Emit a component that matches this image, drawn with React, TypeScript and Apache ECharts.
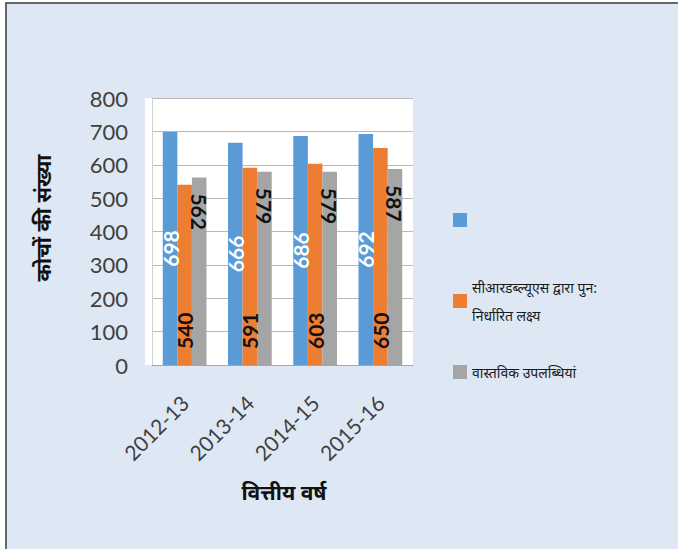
import React, { useEffect, useRef } from "react";
import * as echarts from "echarts";

const years = ["2012-13", "2013-14", "2014-15", "2015-16"];
const seriesNames = [" ", "सीआरडब्ल्यूएस द्वारा पुन:\nनिर्धारित लक्ष्य", "वास्तविक उपलब्धियां"];
const targetValues = [698, 666, 686, 692];
const revisedTargets = [540, 591, 603, 650];
const achievements = [562, 579, 579, 587];
const yTicks = { min: 0, max: 800, interval: 100 };

const NUM_FONT = "Lato, 'Open Sans', sans-serif";
const DEVA = "'Noto Sans', 'Noto Sans Devanagari', 'Lohit Devanagari', sans-serif";

export default function App() {
  const ref = useRef<HTMLDivElement>(null);

  useEffect(() => {
    if (!ref.current) return;
    const chart = echarts.init(ref.current, null, { renderer: "svg" });

    const labelBase = {
      show: true,
      fontFamily: NUM_FONT,
      fontWeight: "bold" as const,
      fontSize: 21,
    };

    const legendCommon = {
      orient: "vertical" as const,
      left: 453,
      padding: 0,
      itemWidth: 14,
      itemHeight: 14,
      icon: "rect",
      selectedMode: false,
    };
    const legendText = { fontFamily: DEVA, fontSize: 14, color: "#1a1a1a" };

    chart.setOption({
      animation: false,
      backgroundColor: "#ffffff",
      graphic: [
        {
          type: "rect",
          z: -10,
          shape: { x: 6, y: 3, width: 680, height: 560 },
          style: { fill: "#dee8f5", stroke: "#3a3a3a", lineWidth: 1.5 },
        },
        {
          type: "rect",
          z: -5,
          shape: { x: 145, y: 98, width: 268, height: 267 },
          style: { fill: "#ffffff" },
        },
        {
          type: "text",
          x: 43,
          y: 218,
          rotation: Math.PI / 2,
          style: {
            text: "कोचों की संख्या",
            fontFamily: DEVA,
            fontWeight: "bold",
            fontSize: 21,
            fill: "#111",
            align: "center",
            verticalAlign: "middle",
          },
        },
        {
          type: "text",
          x: 284,
          y: 492,
          style: {
            text: "वित्तीय वर्ष",
            fontFamily: DEVA,
            fontWeight: "bold",
            fontSize: 21,
            fill: "#111",
            align: "center",
            verticalAlign: "middle",
          },
        },
      ],
      legend: [
        { ...legendCommon, top: 210, data: [seriesNames[0]], textStyle: { ...legendText, lineHeight: 20 } },
        { ...legendCommon, top: 273, data: [seriesNames[1]], textStyle: { ...legendText, lineHeight: 28 } },
        { ...legendCommon, top: 362, data: [seriesNames[2]], textStyle: { ...legendText, lineHeight: 20 } },
      ],
      grid: { left: 152, right: 265, top: 98, bottom: 184, containLabel: false },
      xAxis: {
        type: "category",
        data: years,
        axisLine: { lineStyle: { color: "#a6a6a6", width: 1 } },
        axisTick: { show: false },
        axisLabel: {
          rotate: 45,
          margin: 34,
          fontFamily: NUM_FONT,
          fontSize: 21,
          color: "#404040",
        },
      },
      yAxis: {
        type: "value",
        min: yTicks.min,
        max: yTicks.max,
        interval: yTicks.interval,
        axisLine: { show: true, lineStyle: { color: "#d0d0d0" } },
        axisTick: { show: false },
        splitLine: { lineStyle: { color: "#b8b8b8" } },
        axisLabel: {
          margin: 24,
          fontFamily: NUM_FONT,
          fontSize: 22,
          color: "#404040",
        },
      },
      series: [
        {
          name: seriesNames[0],
          type: "bar",
          data: targetValues,
          barGap: "0%",
          barCategoryGap: "33%",
          itemStyle: { color: "#5b9bd5" },
          label: {
            ...labelBase,
            position: "inside",
            rotate: 90,
            align: "center",
            verticalAlign: "middle",
            color: "#ffffff",
          },
        },
        {
          name: seriesNames[1],
          type: "bar",
          data: revisedTargets,
          barGap: "0%",
          barCategoryGap: "33%",
          itemStyle: { color: "#ed7d31" },
          label: {
            ...labelBase,
            position: "insideBottom",
            distance: 16,
            rotate: 90,
            align: "left",
            verticalAlign: "middle",
            color: "#111111",
          },
        },
        {
          name: seriesNames[2],
          type: "bar",
          data: achievements,
          barGap: "0%",
          barCategoryGap: "33%",
          itemStyle: { color: "#a5a5a5" },
          label: {
            ...labelBase,
            position: "insideTop",
            distance: 16,
            rotate: -90,
            align: "left",
            verticalAlign: "middle",
            color: "#111111",
          },
        },
      ],
    });

    return () => chart.dispose();
  }, []);

  return (
    <div
      ref={ref}
      style={{ position: "fixed", left: 0, top: 0, width: 678, height: 549 }}
    />
  );
}
